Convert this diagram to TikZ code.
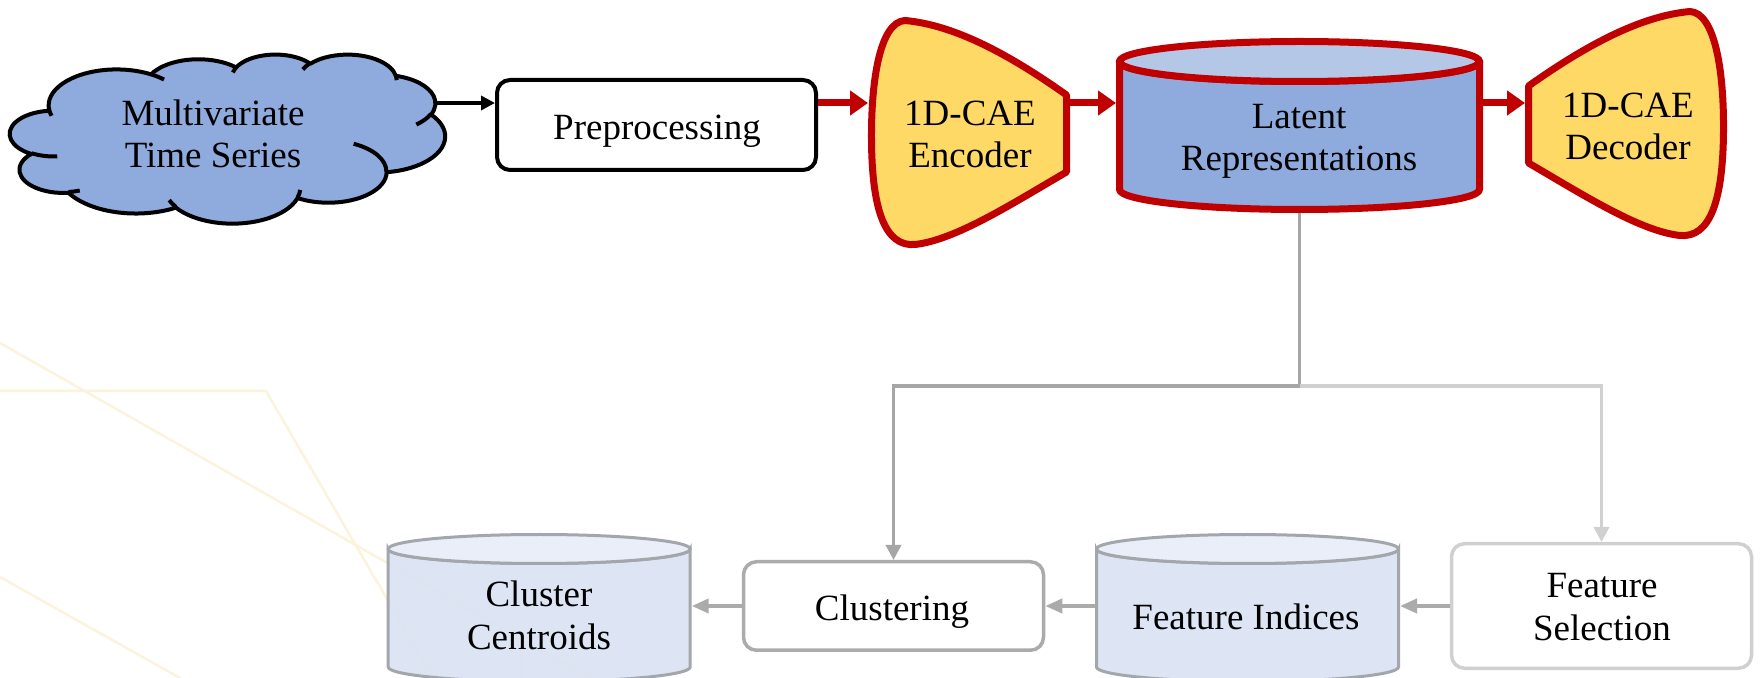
\documentclass[tikz,border=0pt]{standalone}
\usepackage{fontspec}
\setmainfont{Liberation Serif}
\usetikzlibrary{arrows.meta}

\definecolor{cloudblue}{HTML}{8FAADC}
\definecolor{latenttop}{HTML}{B4C7E7}
\definecolor{aeyellow}{HTML}{FFD966}
\definecolor{aered}{HTML}{C00000}
\definecolor{storebody}{HTML}{DAE3F3}
\definecolor{storetop}{HTML}{E9EEF8}
\definecolor{storeline}{HTML}{A3A6AB}
\definecolor{trunkgray}{HTML}{A6A6A6}
\definecolor{flowgray}{HTML}{ABABAB}
\definecolor{flowlight}{HTML}{D0D0D0}
\definecolor{boxgray}{HTML}{ABABAB}
\definecolor{decoline}{HTML}{FBF3DC}

\begin{document}
\begin{tikzpicture}[x=0.5pt, y=-0.5pt,
  txt/.style={font=\fontsize{18.5}{21}\selectfont, align=center, anchor=base, inner sep=0pt},
  ghost/.style={inner sep=0pt, outer sep=0pt},
  procbox/.style={rounded corners=6.5pt, inner sep=0pt, fill=white},
  aeshape/.style={fill=aeyellow, draw=aered, line width=3.5pt, line join=round},
  store/.style={fill=storebody, fill opacity=0.9, draw=storeline, draw opacity=1, line width=1.5pt},
  storelid/.style={fill=storetop, draw=storeline, line width=1.5pt},
  blackflow/.style={draw=black, line width=2pt, -{Triangle[length=7pt,width=7pt]}},
  redflow/.style={draw=aered, line width=3.5pt, -{Triangle[length=9pt,width=12pt]}},
  trunk/.style={draw=trunkgray, line width=1.75pt},
  downflow/.style={line width=1.75pt, -{Triangle[length=7.5pt,width=7.5pt]}},
  grayflow/.style={draw=flowgray, line width=2pt, -{Triangle[length=8.5pt,width=7pt]}},
  decostroke/.style={draw=decoline, line width=1.25pt}
]
\fill[white] (0,0) rectangle (1763,678);
\useasboundingbox (0,0) rectangle (1763,678);

% faint decorative strokes in the lower left corner
\draw[decostroke] (0,343) -- (590,678);
\draw[decostroke] (0,391) -- (266,391) -- (433,678);
\draw[decostroke] (0,577) -- (180,678);
\draw[decostroke] (521,648) -- (522,678);

% ---------- frames of the blocks ----------
\node[ghost, minimum width=214.5pt, minimum height=86.5pt] (mts) at (222.5,138.5) {};
\node[procbox, draw=black, line width=2pt, minimum width=159.5pt, minimum height=45pt] (pre) at (656.5,125) {};
\node[ghost, minimum width=101pt, minimum height=115.5pt] (enc) at (969,132.5) {};
\node[ghost, minimum width=183.5pt, minimum height=87.5pt] (lat) at (1299.5,125.5) {};
\node[ghost, minimum width=101pt, minimum height=116.25pt] (dec) at (1626,123.75) {};
\node[ghost, minimum width=152.5pt, minimum height=75pt] (cc) at (539.2,608) {};
\node[procbox, draw=boxgray, line width=1.75pt, minimum width=150pt, minimum height=44.25pt] (clu) at (893.5,606) {};
\node[ghost, minimum width=152.5pt, minimum height=75pt] (fi) at (1247.5,608) {};
\node[procbox, draw=flowlight, line width=1.75pt, minimum width=150pt, minimum height=62.25pt] (fs) at (1601.5,606) {};

\coordinate (row) at (0,103);
\coordinate (branchlevel) at (0,386);
\coordinate (split) at (lat.south |- branchlevel);

% ---------- cloud (multivariate time series) ----------
\begin{scope}[shift={(10,54)}, x=0.50347pt, y=-0.19560pt]
  \filldraw[fill=cloudblue, draw=black, line width=2pt, line join=round]
    (39,143.7)
    arc[start angle=-187.74, end angle=-59.63, x radius=67.53, y radius=91.90]
    arc[start angle=-152.02, end angle=-45.42, x radius=53.33, y radius=72.67]
    arc[start angle=-153.48, end angle=-37.31, x radius=43.65, y radius=59.45]
    arc[start angle=-139.69, end angle=-10.21, x radius=48.57, y radius=65.95]
    arc[start angle=-74.77, end angle=23.21, x radius=53.33, y radius=72.73]
    arc[start angle=-37.53, end angle=81.86, x radius=67.75, y radius=92.20]
    arc[start angle=0.46, end angle=121.98, x radius=57.85, y radius=78.67]
    arc[start angle=16.84, end angle=146.25, x radius=67.52, y radius=92.15]
    arc[start angle=58.98, end angle=150.20, x radius=77.20, y radius=105.43]
    arc[start angle=83.31, end angle=223.09, x radius=43.60, y radius=59.18]
    arc[start angle=120.36, end angle=264.11, x radius=43.45, y radius=59.45]
    -- cycle;
  \begin{scope}[draw=black, line width=2pt]
    \draw (46.93,261.77) arc[start angle=85.55, end angle=120.36, x radius=43.45, y radius=59.45];
    \draw (69.28,348.99) arc[start angle=68.24, end angle=83.31, x radius=43.60, y radius=59.18];
    \draw (164.78,390.90) arc[start angle=146.24, end angle=158.47, x radius=67.52, y radius=92.15];
    \draw (288.27,347.51) arc[start angle=4.74, end angle=16.84, x radius=67.52, y radius=92.15];
    \draw (341.29,229.54) arc[start angle=-64.03, end angle=0.46, x radius=57.85, y radius=78.67];
    \draw (417.98,153.54) arc[start angle=23.21, end angle=49.64, x radius=53.33, y radius=72.73];
    \draw (383.24,54.26) arc[start angle=-10.21, end angle=0.82, x radius=48.57, y radius=65.95];
    \draw (290.78,39.52) arc[start angle=-156.29, end angle=-139.69, x radius=48.57, y radius=65.95];
    \draw (221.41,47.20) arc[start angle=-167.73, end angle=-153.48, x radius=43.65, y radius=59.45];
    \draw (140.00,51.92) arc[start angle=-59.63, end angle=-45.75, x radius=67.53, y radius=91.90];
    \draw (41.27,157.89) arc[start angle=163.19, end angle=172.26, x radius=67.53, y radius=91.90];
  \end{scope}
\end{scope}

% ---------- encoder and decoder ----------
\begin{scope}[shift={(1066.5,133.5)}]
  \path[aeshape] (0,-38.5) -- (0,38.5)
    .. controls (-56.5,71.5) and (-111.5,106.5) .. (-151.5,111)
    .. controls (-181.5,113.5) and (-194.5,76.5) .. (-195,6.5)
    .. controls (-195.5,-53.5) and (-186.5,-111.5) .. (-161.5,-113)
    .. controls (-111.5,-108.5) and (-56.5,-78.5) .. (0,-38.5) -- cycle;
\end{scope}
\begin{scope}[shift={(1528.5,124.5)}, xscale=-1]
  \path[aeshape] (0,-38.5) -- (0,38.5)
    .. controls (-56.5,71.5) and (-111.5,106.5) .. (-151.5,111)
    .. controls (-181.5,113.5) and (-194.5,76.5) .. (-195,6.5)
    .. controls (-195.5,-53.5) and (-186.5,-111.5) .. (-161.5,-113)
    .. controls (-111.5,-108.5) and (-56.5,-78.5) .. (0,-38.5) -- cycle;
\end{scope}

% ---------- latent store ----------
\path[fill=cloudblue, draw=aered, line width=3.5pt, line join=round]
  (1119.5,61.5) -- (1119.5,189.5)
  arc[start angle=180, end angle=0, x radius=180, y radius=20]
  -- (1479.5,61.5)
  arc[start angle=0, end angle=180, x radius=180, y radius=20] -- cycle;
\path[fill=latenttop, draw=aered, line width=3.5pt] (1299.5,61.5) ellipse[x radius=180, y radius=20];

% ---------- result stores ----------
\path[store] (388.2,549) -- (388.2,667)
  arc[start angle=180, end angle=0, x radius=151, y radius=14.5]
  -- (690.2,549) arc[start angle=0, end angle=180, x radius=151, y radius=14.5] -- cycle;
\path[storelid] (539.2,549) ellipse[x radius=151, y radius=14.5];
\path[store] (1096.5,549) -- (1096.5,667)
  arc[start angle=180, end angle=0, x radius=151, y radius=14.5]
  -- (1398.5,549) arc[start angle=0, end angle=180, x radius=151, y radius=14.5] -- cycle;
\path[storelid] (1247.5,549) ellipse[x radius=151, y radius=14.5];

% ---------- labels (base = baseline of the last line) ----------
\node[txt] (mtsT) at (213,168) {Multivariate\\Time Series};
\node[txt] (preT) at (657,140) {Preprocessing};
\node[txt] (encT) at (970,168) {1D-CAE\\Encoder};
\node[txt] (latT) at (1299,171) {Latent\\Representations};
\node[txt] (decT) at (1628,160) {1D-CAE\\Decoder};
\node[txt] (ccT) at (539,649) {Cluster\\Centroids};
\node[txt] (cluT) at (892,621) {Clustering};
\node[txt] (fiT) at (1246,630) {Feature Indices};
\node[txt] (fsT) at (1602,640) {Feature\\Selection};

% ---------- connectors ----------
\draw[blackflow] (mts.east |- row) -- (pre.west |- row);
\draw[redflow] (pre.east |- row) -- (enc.west |- row);
\draw[redflow] (enc.east |- row) -- (lat.west |- row);
\draw[redflow] (lat.east |- row) -- (dec.west |- row);

\draw[trunk] (lat.south) -- (split);
\draw[downflow, draw=trunkgray] (split) -| (clu.north);
\draw[downflow, draw=flowlight] (split) -| (fs.north);

\draw[grayflow] (fs.west) -- (fi.east |- fs.west);
\draw[grayflow] (fi.west |- clu.east) -- (clu.east);
\draw[grayflow] (clu.west) -- (cc.east |- clu.west);
\end{tikzpicture}
\end{document}
